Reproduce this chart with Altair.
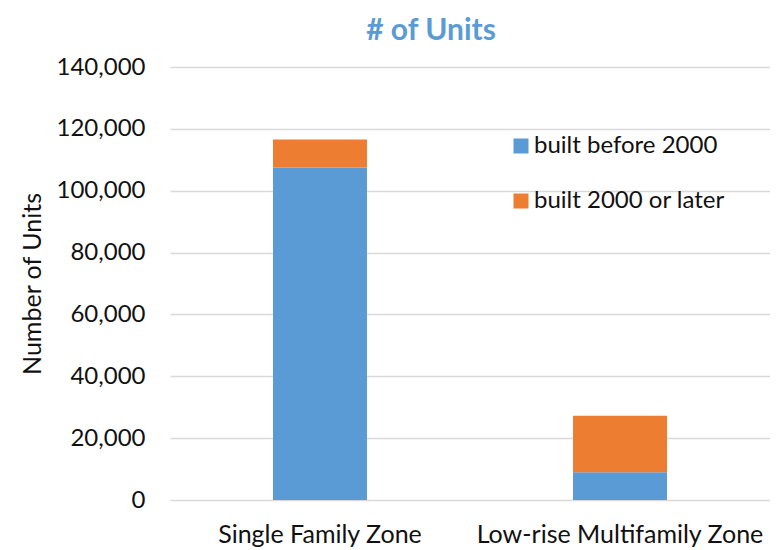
import altair as alt
import pandas as pd

zones = ["Single Family Zone", "Low-rise Multifamily Zone"]
series = ["built before 2000", "built 2000 or later"]
before_2000 = [107500, 8950]
after_2000 = [9050, 18300]
colors = ["#5B9BD5", "#ED7D31"]
y_ticks = [0, 20000, 40000, 60000, 80000, 100000, 120000, 140000]

rows = []
for i, z in enumerate(zones):
    rows.append({"zone": z, "series": series[0], "units": before_2000[i], "ord": 0})
    rows.append({"zone": z, "series": series[1], "units": after_2000[i], "ord": 1})
df = pd.DataFrame(rows)

FONT = "Lato"

chart = (
    alt.Chart(df)
    .mark_bar()
    .encode(
        x=alt.X(
            "zone:N",
            sort=zones,
            title=None,
            scale=alt.Scale(paddingInner=0.6867, paddingOuter=0.3433),
            axis=alt.Axis(
                labelAngle=0,
                labelFont=FONT,
                labelFontSize=25,
                labelColor="#111111",
                labelPadding=22,
                labelLimit=0,
                ticks=False,
                tickSize=0,
                domain=False,
                grid=False,
            ),
        ),
        y=alt.Y(
            "units:Q",
            stack="zero",
            scale=alt.Scale(domain=[0, 140000], nice=False),
            title="Number of Units",
            axis=alt.Axis(
                values=y_ticks,
                format=",d",
                labelFont=FONT,
                labelFontSize=24,
                labelColor="#111111",
                labelPadding=25,
                labelLimit=0,
                ticks=False,
                tickSize=0,
                domain=False,
                grid=True,
                gridColor="#D9D9D9",
                gridWidth=1.5,
                titleFont=FONT,
                titleFontSize=25,
                titleFontWeight="normal",
                titleColor="#111111",
                titleX=-138,
                titleBaseline="middle",
            ),
        ),
        color=alt.Color(
            "series:N",
            sort=series,
            scale=alt.Scale(domain=series, range=colors),
            legend=alt.Legend(
                title=None,
                orient="none",
                legendX=339,
                legendY=67,
                symbolType="square",
                symbolSize=225,
                symbolStrokeWidth=0,
                labelFont=FONT,
                labelFontSize=24,
                labelColor="#111111",
                labelOffset=1,
                labelLimit=0,
                rowPadding=31,
                padding=0,
            ),
        ),
        order=alt.Order("ord:Q", sort="ascending"),
    )
    .properties(
        width=600,
        height=433,
        title=alt.TitleParams(
            "# of Units",
            font=FONT,
            fontSize=30,
            fontWeight="bold",
            color="#5B9BD5",
            anchor="middle",
            frame="group",
            dx=-39,
            offset=9,
        ),
        autosize=alt.AutoSizeParams(type="none"),
        padding={"left": 162, "top": 59, "right": 0, "bottom": 50},
    )
    .configure_view(stroke=None)
)

chart.save("out.html", embed_options={"renderer": "svg", "actions": False})
